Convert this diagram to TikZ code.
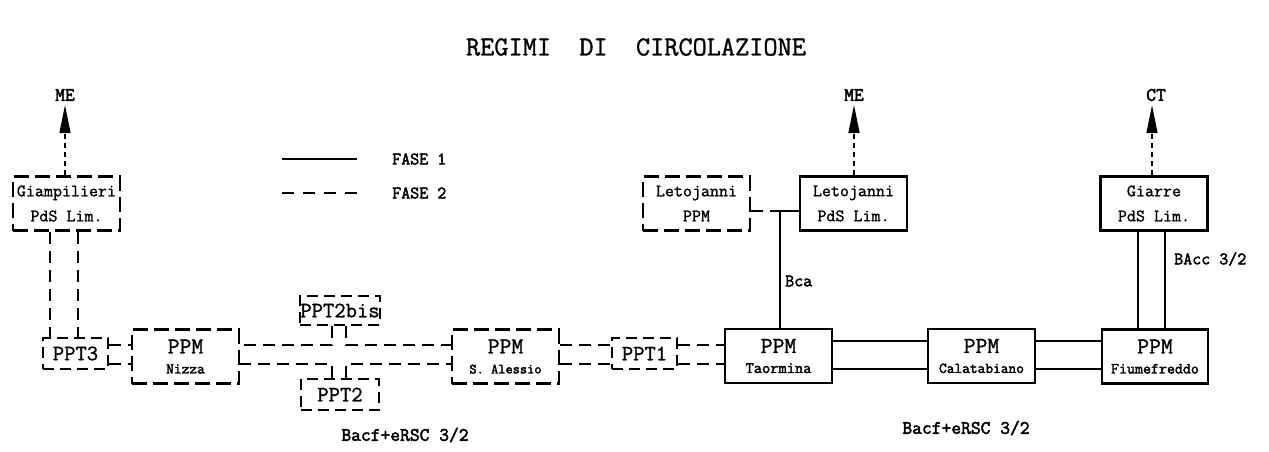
\documentclass[tikz,border=0pt]{standalone}
\usepackage{fontspec}
\setmonofont{Latin Modern Mono}[FakeBold=1.2,BoldFont={Latin Modern Mono},BoldFeatures={FakeBold=2.4}]
\usetikzlibrary{arrows.meta}
\tikzset{
  solidbox/.style={draw, line width=2.6pt, inner sep=0pt, align=center, minimum width=107pt, minimum height=54pt},
  dashbox/.style={draw, line width=2.6pt, dash pattern=on 15pt off 6pt, inner sep=0pt, align=center, minimum width=107pt, minimum height=54pt},
  pds/.style={font=\ttfamily\fontsize{17.5}{25}\selectfont},
  ppm/.style={font=\ttfamily\bfseries\fontsize{#1}{20}\selectfont},
  pptbox/.style={draw, line width=2pt, dash pattern=on 11pt off 6pt, inner sep=0pt, align=center, minimum height=31pt, font=\ttfamily\fontsize{22}{22}\selectfont},
  fone/.style={line width=1.2pt},
  ftwo/.style={line width=1.2pt, dash pattern=on 12pt off 7pt},
  uparrow/.style={line width=1.3pt, dash pattern=on 5pt off 4pt, -{Triangle[length=28pt,width=11pt]}, shorten >=4pt},
  lbl/.style={font=\ttfamily\bfseries\fontsize{19}{19}\selectfont, inner sep=0pt},
  slbl/.style={font=\ttfamily\bfseries\fontsize{17.5}{17.5}\selectfont, inner sep=0pt},
}
\newcommand{\ppmhead}{{\mdseries\fontsize{23}{23}\selectfont PPM}}
\begin{document}
\begin{tikzpicture}[x=1pt,y=-1pt,font=\ttfamily]
\useasboundingbox (0,0) rectangle (1269,452);

% title
\node[font=\ttfamily\fontsize{27.5}{27.5}\selectfont] (title) at (636,47) {REGIMI~~DI~~CIRCOLAZIONE};

% legend
\coordinate (l1a) at (282,159); \coordinate (l1b) at (357,159);
\coordinate (l2a) at (282,193); \coordinate (l2b) at (357,193);
\draw[fone] (l1a) -- (l1b);
\draw[ftwo, dash pattern=on 12pt off 9pt] (l2a) -- (l2b);
\node[slbl, anchor=west] (fase1) at (392,159) {FASE 1};
\node[slbl, anchor=west] (fase2) at (392,193) {FASE 2};

% upper boxes
\node[dashbox, pds] (giamp) at (66.5,203.5) {Giampilieri\\PdS Lim.};
\node[dashbox, pds] (letoppm) at (696.5,203.5) {Letojanni\\PPM};
\node[solidbox, pds] (letopds) at (853.5,203.5) {Letojanni\\PdS Lim.};
\node[solidbox, pds] (giarre) at (1154,203.5) {Giarre\\PdS Lim.};

% destination labels
\node[lbl] (me1) at (65,95) {ME};
\node[lbl] (me2) at (854,95) {ME};
\node[lbl] (ct) at (1156,95) {CT};
\draw[uparrow] (giamp.north -| me1) -- (me1.south);
\draw[uparrow] (letopds.north -| me2) -- (me2.south);
\draw[uparrow] (giarre.north -| 1152,0) -- (ct.south -| 1152,0);

% lower row
\node[pptbox, minimum width=65pt] (ppt3) at (75.5,353.5) {PPT3};
\node[dashbox, ppm=15] (nizza) at (185.5,356.5) {\ppmhead\\Nizza};
\node[pptbox, minimum width=78pt, minimum height=29pt] (ppt2bis) at (340,310.5) {PPT2bis};
\node[pptbox, minimum width=78pt] (ppt2) at (340,394.5) {PPT2};
\node[dashbox, ppm=14] (alessio) at (505.5,356.5) {\ppmhead\\S. Alessio};
\node[pptbox, minimum width=65pt] (ppt1) at (644.5,353.5) {PPT1};
\node[solidbox, ppm=16] (taormina) at (778.5,356) {\ppmhead\\Taormina};
\node[solidbox, ppm=15] (calata) at (981.5,356) {\ppmhead\\Calatabiano};
\node[solidbox, ppm=15.5, minimum width=106pt] (fiume) at (1155,356.5) {\ppmhead\\Fiumefreddo};

% Giampilieri - PPT3
\draw[ftwo] (giamp.south -| 50,0) -- (ppt3.north -| 50,0);
\draw[ftwo] (giamp.south -| 78,0) -- (ppt3.north -| 78,0);
% PPT3 - Nizza
\draw[ftwo] (ppt3.east |- 0,345) -- (nizza.west |- 0,345);
\draw[ftwo] (ppt3.east |- 0,364) -- (nizza.west |- 0,364);
% Nizza - PPT2bis/PPT2 - S. Alessio
\draw[ftwo] (ppt2bis.south -| 332,0) |- (nizza.east |- 0,345);
\draw[ftwo] (ppt2bis.south -| 346,0) |- (alessio.west |- 0,345);
\draw[ftwo] (ppt2.north -| 332,0) |- (nizza.east |- 0,364);
\draw[ftwo] (ppt2.north -| 346,0) |- (alessio.west |- 0,364);
% S. Alessio - PPT1 - Taormina
\draw[ftwo] (alessio.east |- 0,345) -- (ppt1.west |- 0,345);
\draw[ftwo] (alessio.east |- 0,364) -- (ppt1.west |- 0,364);
\draw[ftwo] (ppt1.east |- 0,345) -- (taormina.west |- 0,345);
\draw[ftwo] (ppt1.east |- 0,364) -- (taormina.west |- 0,364);
% Taormina - Calatabiano - Fiumefreddo
\draw[fone] (taormina.east |- 0,341) -- (calata.west |- 0,341);
\draw[fone] (taormina.east |- 0,369) -- (calata.west |- 0,369);
\draw[fone] (calata.east |- 0,341) -- (fiume.west |- 0,341);
\draw[fone] (calata.east |- 0,369) -- (fiume.west |- 0,369);
% Letojanni
\coordinate (lj) at (780,211);
\draw[ftwo] (letoppm.east |- lj) -- (lj);
\draw[fone] (lj) -- (letopds.west |- lj);
\draw[fone] (lj) -- (taormina.north -| lj);
% Giarre - Fiumefreddo
\draw[fone] (giarre.south -| 1138,0) -- (fiume.north -| 1138,0);
\draw[fone] (giarre.south -| 1165,0) -- (fiume.north -| 1165,0);

% line labels
\node[slbl, anchor=west] (bca) at (785,281) {Bca};
\node[slbl, anchor=west] (bacc) at (1174,259) {BAcc 3/2};
\node[lbl] (bacf1) at (405,435) {Bacf+eRSC 3/2};
\node[lbl] (bacf2) at (966,428) {Bacf+eRSC 3/2};
\end{tikzpicture}
\end{document}
